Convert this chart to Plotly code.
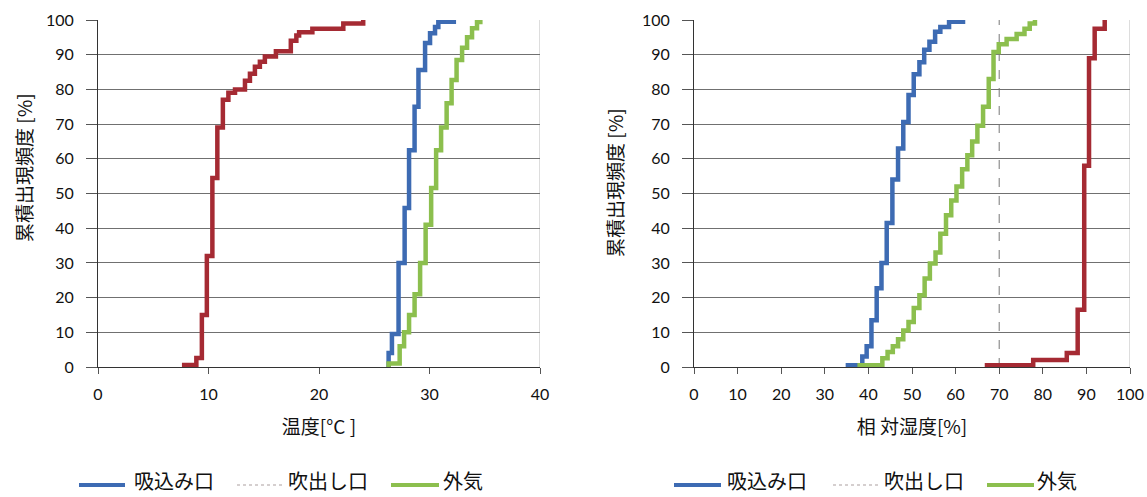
import plotly.graph_objects as go

# ---------------- data ----------------
series_names = ["吸込み口", "吹出し口", "外気"]
series_colors = ["#3D6BB3", "#A52A33", "#8CBF4E"]
legend_line_colors = ["#3D6BB3", "#C8C0C0", "#8CBF4E"]

# Temperature [°C] – cumulative frequency [%]
temp_suction_x = [26.3, 26.3, 26.6, 27.2, 27.75, 28.15, 28.65, 29.0, 29.6, 30.05, 30.5, 30.8, 32.2]
temp_suction_y = [0, 4, 9.5, 30, 45.8, 62.5, 75, 85.6, 93.4, 96.2, 98, 99.5, 100]

temp_outlet_x = [7.8, 7.8, 8.9, 9.4, 9.85, 10.35, 10.8, 11.3, 11.8, 12.4, 13.3, 13.75, 14.2,
                 14.65, 15.1, 16.1, 17.45, 17.95, 18.2, 19.4, 22.2, 24.0]
temp_outlet_y = [0, 0.6, 2.6, 15, 32, 54.5, 69, 77, 79, 80, 82.5, 84.5, 86.5,
                 88, 89.5, 91, 94, 95.5, 96.5, 97.5, 99, 100]

temp_outdoor_x = [26.3, 26.3, 27.3, 27.7, 28.15, 28.65, 29.15, 29.65, 30.15, 30.6, 31.05, 31.55,
                  32.0, 32.45, 32.95, 33.4, 33.85, 34.3, 34.6]
temp_outdoor_y = [0, 1, 6, 10, 15, 21, 30, 41, 51.6, 62.5, 69, 76,
                  82.7, 88.5, 92, 95, 97.6, 99.4, 100]

# Relative humidity [%] – cumulative frequency [%]
rh_suction_x = [35.3, 35.3, 38.6, 39.6, 40.7, 41.9, 43.0, 44.2, 45.5, 46.8, 48.0, 49.2, 50.4,
                51.7, 52.8, 54.0, 55.3, 56.5, 58.5, 61.7]
rh_suction_y = [0, 0.5, 3, 6, 13.5, 22.7, 30, 41.5, 54, 63, 70.6, 78.4, 84.4,
                87.8, 91.4, 93.7, 96.6, 98, 99.5, 100]

rh_outlet_x = [67.2, 67.2, 77.8, 85.5, 88.0, 89.5, 90.6, 91.9, 94.2]
rh_outlet_y = [0, 0.5, 2, 4, 16.5, 58, 89, 97.5, 100]

rh_outdoor_x = [38.0, 38.0, 43.2, 44.4, 45.6, 46.8, 48.0, 49.2, 50.4, 51.7, 52.9, 54.1, 55.4,
                56.5, 57.8, 59.0, 60.2, 61.5, 62.7, 63.8, 65.0, 66.3, 67.6, 68.7, 69.9,
                71.7, 74.0, 75.8, 77.0, 78.2]
rh_outdoor_y = [0, 0.5, 2.5, 4.3, 6, 8, 10.5, 13, 17, 20.7, 25.5, 29.8, 33,
                38.4, 43.7, 48, 52, 57, 61, 65, 69.5, 75, 83, 90.8, 93,
                94.5, 96, 97.5, 99, 100]

# small black marks below the x axes
temp_marks_x = [10, 20]
rh_marks_x = [30, 70, 80]
marks_y = -1.2

rh_reference_line = 70

y_ticks = list(range(0, 101, 10))
temp_ticks = [0, 10, 20, 30, 40]
rh_ticks = list(range(0, 101, 10))

# ---------------- figure ----------------
FONT = "Lato, 'Noto Sans CJK JP', sans-serif"
JFONT = "'Noto Sans CJK JP', Lato, sans-serif"
LW = 4.5
W, H = 1147, 497

fig = go.Figure()

panels = [
    ("x", "y",
     [(temp_suction_x, temp_suction_y), (temp_outlet_x, temp_outlet_y), (temp_outdoor_x, temp_outdoor_y)],
     temp_marks_x),
    ("x2", "y2",
     [(rh_suction_x, rh_suction_y), (rh_outlet_x, rh_outlet_y), (rh_outdoor_x, rh_outdoor_y)],
     rh_marks_x),
]

for xa, ya, data, marks in panels:
    for i in (1, 0, 2):
        fig.add_trace(go.Scatter(x=data[i][0], y=data[i][1], mode="lines", line_shape="hv",
                                 line=dict(color=series_colors[i], width=LW), name=series_names[i],
                                 xaxis=xa, yaxis=ya, showlegend=False))
    fig.add_trace(go.Scatter(x=marks, y=[marks_y] * len(marks), mode="markers",
                             marker=dict(symbol="square", size=6, color="black"),
                             cliponaxis=False, xaxis=xa, yaxis=ya, showlegend=False, hoverinfo="skip"))

fig.add_shape(type="line", xref="x2", yref="y2", x0=rh_reference_line, x1=rh_reference_line,
              y0=0, y1=100, line=dict(color="#777777", width=1, dash="dash"), layer="below")
for xr, yr, xv in [("x", "y", 40), ("x2", "y2", 100)]:
    fig.add_shape(type="line", xref=xr, yref=yr, x0=xv, x1=xv, y0=0, y1=100,
                  line=dict(color="#BBBBBB", width=1), layer="below")

# y-axis titles
for xpix, ypix in [(23, 168), (614, 183)]:
    fig.add_annotation(text="累積出現頻度 [%]", textangle=-90, showarrow=False,
                       xref="paper", yref="paper", x=xpix / W, y=1 - ypix / H,
                       xanchor="center", yanchor="middle",
                       font=dict(family=JFONT, size=19, color="#111111"))

# legends drawn below each panel (line sample + label)
legend_rows = [
    [(79, 125, 132), (237, 284, 286), (391, 439, 441)],
    [(674, 721, 725), (833, 880, 882), (987, 1034, 1035)],
]
LEG_Y = 485
for row in legend_rows:
    for i, (x0, x1, xt) in enumerate(row):
        fig.add_shape(type="line", xref="paper", yref="paper",
                      x0=x0 / W, x1=x1 / W, y0=1 - LEG_Y / H, y1=1 - LEG_Y / H,
                      line=dict(color=legend_line_colors[i], width=1.5 if i == 1 else 4,
                                dash="dot" if i == 1 else "solid"))
        fig.add_annotation(text=series_names[i], showarrow=False, xref="paper", yref="paper",
                           x=xt / W, y=0, xanchor="left", yanchor="bottom",
                           font=dict(family=JFONT, size=20, color="#111111"))

axis_font = dict(family=FONT, size=16, color="#111111")
common_y = dict(range=[0, 100], tickvals=y_ticks, showgrid=True, gridcolor="#707070", gridwidth=1,
                showline=True, linecolor="#333333", linewidth=1, ticks="outside", ticklen=11,
                tickcolor="#555555", tickfont=axis_font, zeroline=False, ticklabelstandoff=9,
                automargin=False, domain=[1 - 367 / H, 1 - 20 / H])
common_x = dict(showgrid=False, showline=True, linecolor="#333333", linewidth=1, ticks="outside",
                ticklen=6, tickcolor="#555555", tickfont=axis_font, zeroline=False,
                ticklabelstandoff=7, automargin=False)

fig.update_layout(
    width=W, height=H,
    margin=dict(l=0, r=0, t=0, b=0),
    paper_bgcolor="white", plot_bgcolor="white",
    font=dict(family=FONT, size=17, color="#111111"),
    xaxis=dict(common_x, domain=[98 / W, 540 / W], range=[0, 40], tickvals=temp_ticks, anchor="y",
               title=dict(text="温度[°C ]", font=dict(family=JFONT, size=19), standoff=18)),
    yaxis=dict(common_y, anchor="x"),
    xaxis2=dict(common_x, domain=[694 / W, 1130 / W], range=[0, 100], tickvals=rh_ticks, anchor="y2",
                title=dict(text="相 対湿度[%]", font=dict(family=JFONT, size=19), standoff=18)),
    yaxis2=dict(common_y, anchor="x2"),
    showlegend=False,
)

fig.write_html("out.html")
